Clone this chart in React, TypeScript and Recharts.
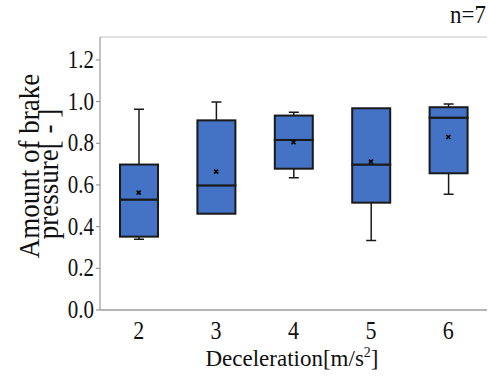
import {
  Bar,
  CartesianGrid,
  ComposedChart,
  Scatter,
  XAxis,
  YAxis,
} from 'recharts';

const CATEGORIES = ['2', '3', '4', '5', '6'];
const MIN_VALUES = [0.339, 0.462, 0.635, 0.333, 0.555];
const Q1_VALUES = [0.352, 0.462, 0.678, 0.515, 0.656];
const MEDIAN_VALUES = [0.53, 0.598, 0.816, 0.698, 0.923];
const Q3_VALUES = [0.698, 0.91, 0.933, 0.968, 0.973];
const MAX_VALUES = [0.963, 0.998, 0.949, 0.968, 0.989];
const MEAN_VALUES = [0.563, 0.664, 0.805, 0.712, 0.83];
const Y_TICKS = [0, 0.2, 0.4, 0.6, 0.8, 1.0, 1.2];

const FONT = '"Liberation Serif", "Times New Roman", serif';
const BOX_FILL = '#4472c4';
const EDGE = '#1a1a1a';
const GRID = '#c4c4c4';
const INK = '#111';

const data = CATEGORIES.map((c, i) => ({
  cat: c,
  base: MIN_VALUES[i],
  lowWhisker: Q1_VALUES[i] - MIN_VALUES[i],
  lowBox: MEDIAN_VALUES[i] - Q1_VALUES[i],
  highBox: Q3_VALUES[i] - MEDIAN_VALUES[i],
  highWhisker: MAX_VALUES[i] - Q3_VALUES[i],
  mean: MEAN_VALUES[i],
}));

// the original's serif glyphs are a little taller than they are wide
const Tall = ({ x, y, size, stretch, anchor, rotate = 0, children }: any) => (
  <g transform={`translate(${x},${y}) rotate(${rotate}) scale(1,${stretch})`}>
    <text x={0} y={0} textAnchor={anchor} fontFamily={FONT} fontSize={size} fill={INK}>
      {children}
    </text>
  </g>
);

const XTick = ({ x, payload }: any) => (
  <Tall x={x} y={339} size={22} stretch={1.12} anchor="middle">
    {payload.value}
  </Tall>
);

const YTick = ({ x, y, payload }: any) => (
  <Tall x={x} y={y + 8} size={21} stretch={1.15} anchor="end">
    {Number(payload.value).toFixed(1)}
  </Tall>
);

const Whisker = (capAt: 'top' | 'bottom') => (props: any) => {
  const { x, y, width, height } = props;
  if (height == null || Math.abs(height) < 0.5) return <g />;
  const cx = x + width / 2;
  const capY = capAt === 'top' ? y : y + height;
  return (
    <g>
      <line x1={cx} x2={cx} y1={y} y2={y + height} stroke={EDGE} strokeWidth={1.5} />
      <line x1={cx - 5} x2={cx + 5} y1={capY} y2={capY} stroke={EDGE} strokeWidth={1.5} />
    </g>
  );
};

const BoxPart = (props: any) => {
  const { x, y, width, height } = props;
  if (height == null || height < 0.5) return <g />;
  return <rect x={x} y={y} width={width} height={height} fill={BOX_FILL} stroke={EDGE} strokeWidth={2} />;
};

const MeanMark = (props: any) => {
  const { cx, cy } = props;
  const s = 2;
  return (
    <g stroke="#000" strokeWidth={1.6}>
      <line x1={cx - s} x2={cx + s} y1={cy - s} y2={cy + s} />
      <line x1={cx - s} x2={cx + s} y1={cy + s} y2={cy - s} />
    </g>
  );
};

export default function App() {
  return (
    <div style={{ position: 'absolute', left: 0, top: 0, width: 488, height: 385, background: '#fff' }}>
      <ComposedChart
        width={488}
        height={385}
        data={data}
        margin={{ top: 37, right: 1, left: 0, bottom: 35 }}
        barCategoryGap="25%"
      >
        <CartesianGrid stroke={GRID} vertical={false} strokeWidth={1.2} />
        <XAxis
          dataKey="cat"
          xAxisId="b"
          height={40}
          stroke="#888"
          tickLine={false}
          tick={<XTick />}
        />
        <XAxis dataKey="cat" xAxisId="t" orientation="top" stroke="#aaa" tick={false} tickLine={false} height={0} />
        <YAxis
          yAxisId="l"
          domain={[0, 1.31]}
          ticks={Y_TICKS}
          interval={0}
          width={100}
          stroke="#888"
          tickSize={4}
          tick={<YTick />}
          allowDataOverflow
        />
        <YAxis yAxisId="r" orientation="right" domain={[0, 1.31]} stroke="#aaa" tick={false} tickLine={false} width={0} />
        <Bar xAxisId="b" yAxisId="l" dataKey="base" stackId="box" fill="none" barSize={38} isAnimationActive={false} />
        <Bar xAxisId="b" yAxisId="l" dataKey="lowWhisker" stackId="box" barSize={38} shape={Whisker('bottom')} isAnimationActive={false} />
        <Bar xAxisId="b" yAxisId="l" dataKey="lowBox" stackId="box" barSize={38} shape={BoxPart} isAnimationActive={false} />
        <Bar xAxisId="b" yAxisId="l" dataKey="highBox" stackId="box" barSize={38} shape={BoxPart} isAnimationActive={false} />
        <Bar xAxisId="b" yAxisId="l" dataKey="highWhisker" stackId="box" barSize={38} shape={Whisker('top')} isAnimationActive={false} />
        <Scatter xAxisId="b" yAxisId="l" dataKey="mean" shape={MeanMark} isAnimationActive={false} />
        <text x={292} y={366} textAnchor="middle" fontFamily={FONT} fontSize={23} fill={INK}>
          Deceleration[m/s<tspan dy={-9} fontSize={14}>2</tspan>
          <tspan dy={9}>]</tspan>
        </text>
        <Tall x={486} y={23} size={23} stretch={1.12} anchor="end">
          n=7
        </Tall>
        <Tall x={39} y={166} size={27} stretch={1.1} anchor="middle" rotate={-90}>
          Amount of brake
        </Tall>
        <Tall x={58} y={174} size={27} stretch={1.1} anchor="middle" rotate={-90}>
          pressure[ - ]
        </Tall>
      </ComposedChart>
    </div>
  );
}
